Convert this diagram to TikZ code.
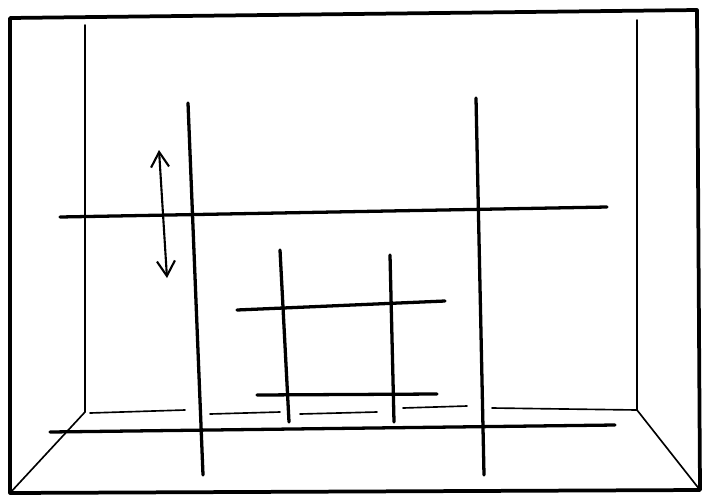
\documentclass[tikz,border=0pt]{standalone}
\usepackage{tikz}
\usetikzlibrary{arrows.meta,calc}

\begin{document}
\begin{tikzpicture}[
    x=0.03cm, y=-0.03cm,
    frame/.style={line width=3.2pt, line join=round, line cap=round},
    wall/.style={line width=1.4pt, line cap=round},
    beam/.style={line width=2.8pt, line cap=round},
    arrow/.style={{Straight Barb[length=4.5mm,width=5.4mm]}-{Straight Barb[length=4.5mm,width=5.4mm]}, line width=1.8pt}
]
\useasboundingbox (0,0) rectangle (704,497);

% outer frame
\coordinate (tl) at (10,18);
\coordinate (tr) at (697,10);
\coordinate (br) at (700,490);
\coordinate (bl) at (10,493);
\draw[frame] (tl) -- (tr) -- (br) -- (bl) -- cycle;

% back wall
\coordinate (wtl) at (85,25);
\coordinate (wbl) at (85,412);
\coordinate (wtr) at (637,20);
\coordinate (wbr) at (637,410);
\draw[wall] (wtl) -- (wbl);
\draw[wall] (wtr) -- (wbr);
\draw[wall] (wbl) -- (bl);
\draw[wall] (wbr) -- (br);

% floor edge, broken
\draw[wall] (90,413) -- (185,410);
\draw[wall] (210,414) -- (280,412);
\draw[wall] (300,414) -- (377,412);
\draw[wall] (403,408) -- (467,406);
\draw[wall] (492,408) -- (wbr);

% long beams
\coordinate (h1a) at (60,217);
\coordinate (h1b) at (607,207);
\coordinate (h2a) at (50,432);
\coordinate (h2b) at (615,425);
\coordinate (v1a) at (188,103);
\coordinate (v1b) at (203,475);
\coordinate (v2a) at (476,98);
\coordinate (v2b) at (484,475);
\draw[beam] (h1a) -- (h1b);
\draw[beam] (h2a) -- (h2b);
\draw[beam] (v1a) -- (v1b);
\draw[beam] (v2a) -- (v2b);

% small grid
\coordinate (g1a) at (237,310);
\coordinate (g1b) at (445,301);
\coordinate (g2a) at (257,395);
\coordinate (g2b) at (437,394);
\coordinate (g3a) at (280,250);
\coordinate (g3b) at (289,422);
\coordinate (g4a) at (390,255);
\coordinate (g4b) at (394,422);
\draw[beam] (g1a) -- (g1b);
\draw[beam] (g2a) -- (g2b);
\draw[beam] (g3a) -- (g3b);
\draw[beam] (g4a) -- (g4b);

% double arrow
\coordinate (up) at (159,150);
\coordinate (down) at (167,278);
\draw[arrow] (up) -- (down);
\end{tikzpicture}
\end{document}
